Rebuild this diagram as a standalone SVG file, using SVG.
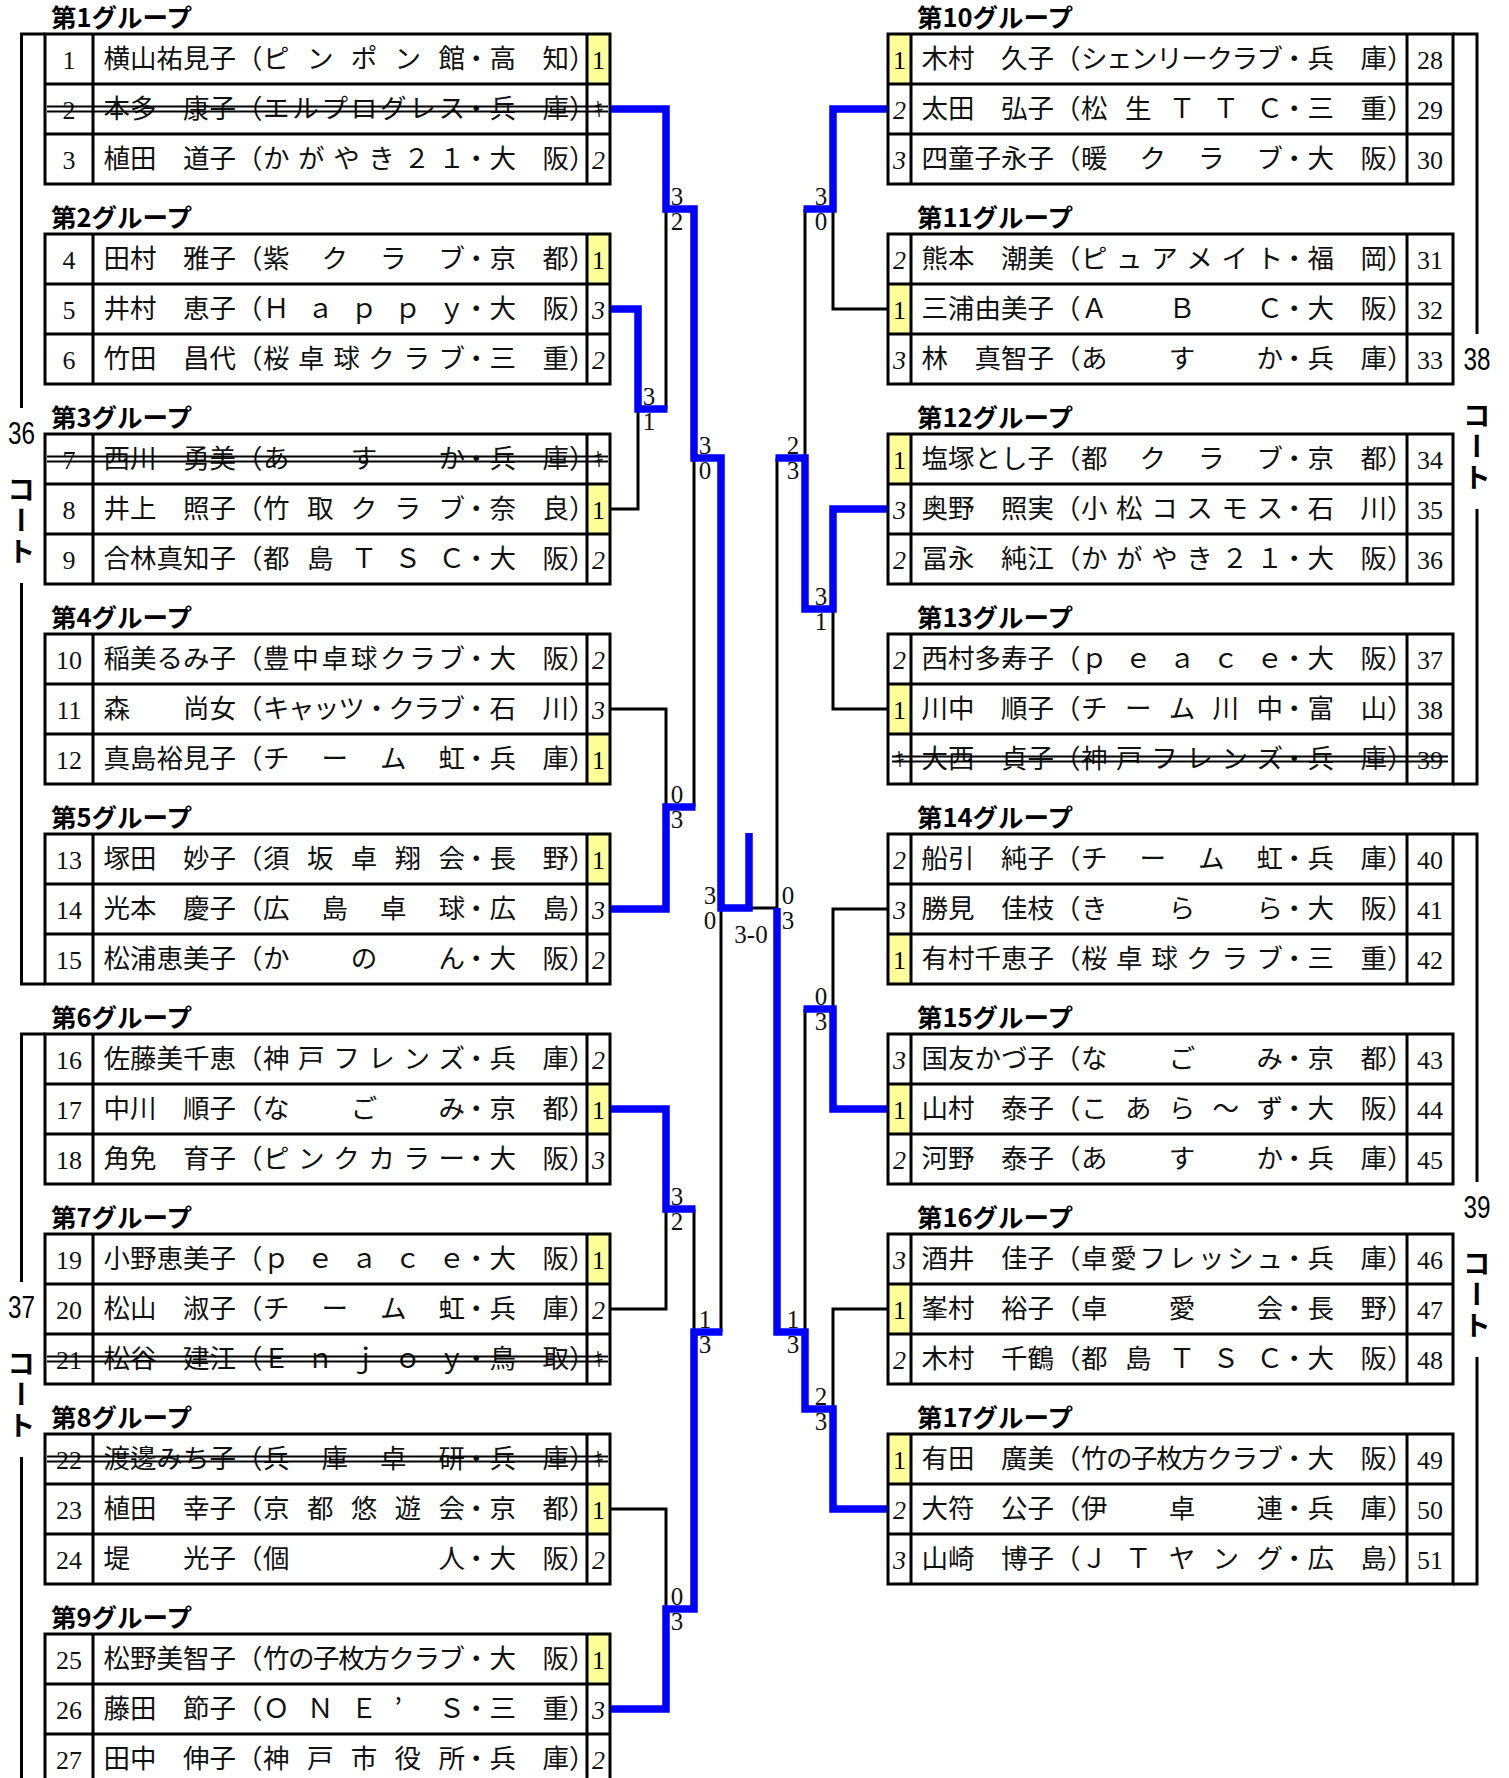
<svg xmlns="http://www.w3.org/2000/svg" width="1509" height="1778" viewBox="0 0 1509 1778">
<style>
.t{fill:none;stroke:#000;stroke-width:3}
.y{fill:#ffff99}
.nm{font-family:"Noto Sans CJK JP","Noto Sans",sans-serif;font-size:26.5px;fill:#111}
.no{font-family:"Liberation Serif",serif;font-size:26px;text-anchor:middle;fill:#111}
.w{font-family:"Liberation Serif",serif;font-size:26px;text-anchor:middle;fill:#000}
.sc{font-family:"Liberation Serif",serif;font-size:26px;font-style:italic;text-anchor:middle;fill:#111}
.k{font-family:"Noto Sans CJK JP",sans-serif;font-size:20px;text-anchor:middle;fill:#111}
.ttl{font-family:"Noto Sans CJK JP",sans-serif;font-size:25.5px;font-weight:bold;fill:#000}
.st{stroke:#000;stroke-width:2}
.bk{fill:none;stroke:#000;stroke-width:3}
.bl{fill:none;stroke:#0000ff;stroke-width:7.5;stroke-linejoin:miter}
.js{font-family:"Liberation Serif",serif;font-size:25px;text-anchor:middle;fill:#111}
.ct{font-family:"Liberation Sans",Arial,sans-serif;font-size:32px;text-anchor:middle;fill:#000}
.cv{font-family:"Noto Sans CJK JP",sans-serif;font-size:28px;font-weight:bold;writing-mode:vertical-rl;fill:#000}
</style>
<rect x="0" y="0" width="1509" height="1778" fill="#fff"/>

<g id="courts">
<path class="bk" d="M45,34H21.5V408M21.5,583V984H45"/>
<text class="ct" x="21.5" y="443.5" textLength="27" lengthAdjust="spacingAndGlyphs">36</text>
<text class="cv" x="21.5" y="475 506 537">コート</text>
<path class="bk" d="M45,1034H21.5V1282M21.5,1457V1790"/>
<text class="ct" x="21.5" y="1317.5" textLength="27" lengthAdjust="spacingAndGlyphs">37</text>
<text class="cv" x="21.5" y="1349 1380 1411">コート</text>
<path class="bk" d="M1453,34H1477V334M1477,509V784H1453"/>
<text class="ct" x="1477" y="369.5" textLength="27" lengthAdjust="spacingAndGlyphs">38</text>
<text class="cv" x="1477" y="401 432 463">コート</text>
<path class="bk" d="M1453,834H1477V1182M1477,1357V1584H1453"/>
<text class="ct" x="1477" y="1217.5" textLength="27" lengthAdjust="spacingAndGlyphs">39</text>
<text class="cv" x="1477" y="1249 1280 1311">コート</text>
</g>

<g id="group1" transform="translate(45,34)">
<text class="ttl" x="6" y="-7">第1グループ</text>
<rect class="y" x="542" y="0" width="23" height="50"/>
<path class="t" d="M0,0H565V150H0ZM48,0V150M542,0V150M0,50H565M0,100H565"/>
<text class="no" x="24" y="34.5">1</text><text class="no" x="24" y="84.5">2</text><text class="no" x="24" y="134.5">3</text>
<text class="w" x="553.5" y="34.5">1</text><text class="k" x="553.5" y="82.5">ｷ</text><text class="sc" x="553.5" y="134.5">2</text>
<g transform="translate(48,-1)">
<text class="nm" y="34.5"><tspan x="10.5">横山祐見子（</tspan><tspan x="170 213.9 257.8 301.6 345.5">ピンポン館</tspan><tspan x="370">・高　知）</tspan></text>
<text class="nm" y="84.5"><tspan x="10.5">本多　康子（</tspan><tspan x="170 199.3 228.5 257.8 287 316.3 345.5">エルプログレス</tspan><tspan x="370">・兵　庫）</tspan></text>
<text class="nm" y="134.5"><tspan x="10.5">植田　道子（</tspan><tspan x="170 205.1 240.2 275.3 310.4 345.5">かがやき２１</tspan><tspan x="370">・大　阪）</tspan></text>
</g>
<path class="st" d="M2,72.5H563M2,77.5H563"/>
</g>

<g id="group2" transform="translate(45,234)">
<text class="ttl" x="6" y="-7">第2グループ</text>
<rect class="y" x="542" y="0" width="23" height="50"/>
<path class="t" d="M0,0H565V150H0ZM48,0V150M542,0V150M0,50H565M0,100H565"/>
<text class="no" x="24" y="34.5">4</text><text class="no" x="24" y="84.5">5</text><text class="no" x="24" y="134.5">6</text>
<text class="w" x="553.5" y="34.5">1</text><text class="sc" x="553.5" y="84.5">3</text><text class="sc" x="553.5" y="134.5">2</text>
<g transform="translate(48,-1)">
<text class="nm" y="34.5"><tspan x="10.5">田村　雅子（</tspan><tspan x="170 228.5 287 345.5">紫クラブ</tspan><tspan x="370">・京　都）</tspan></text>
<text class="nm" y="84.5"><tspan x="10.5">井村　恵子（</tspan><tspan x="170 213.9 257.8 301.6 345.5">Ｈａｐｐｙ</tspan><tspan x="370">・大　阪）</tspan></text>
<text class="nm" y="134.5"><tspan x="10.5">竹田　昌代（</tspan><tspan x="170 205.1 240.2 275.3 310.4 345.5">桜卓球クラブ</tspan><tspan x="370">・三　重）</tspan></text>
</g>
</g>

<g id="group3" transform="translate(45,434)">
<text class="ttl" x="6" y="-7">第3グループ</text>
<rect class="y" x="542" y="50" width="23" height="50"/>
<path class="t" d="M0,0H565V150H0ZM48,0V150M542,0V150M0,50H565M0,100H565"/>
<text class="no" x="24" y="34.5">7</text><text class="no" x="24" y="84.5">8</text><text class="no" x="24" y="134.5">9</text>
<text class="k" x="553.5" y="32.5">ｷ</text><text class="w" x="553.5" y="84.5">1</text><text class="sc" x="553.5" y="134.5">2</text>
<g transform="translate(48,-1)">
<text class="nm" y="34.5"><tspan x="10.5">西川　勇美（</tspan><tspan x="170 257.8 345.5">あすか</tspan><tspan x="370">・兵　庫）</tspan></text>
<text class="nm" y="84.5"><tspan x="10.5">井上　照子（</tspan><tspan x="170 213.9 257.8 301.6 345.5">竹取クラブ</tspan><tspan x="370">・奈　良）</tspan></text>
<text class="nm" y="134.5"><tspan x="10.5">合林真知子（</tspan><tspan x="170 213.9 257.8 301.6 345.5">都島ＴＳＣ</tspan><tspan x="370">・大　阪）</tspan></text>
</g>
<path class="st" d="M2,22.5H563M2,27.5H563"/>
</g>

<g id="group4" transform="translate(45,634)">
<text class="ttl" x="6" y="-7">第4グループ</text>
<rect class="y" x="542" y="100" width="23" height="50"/>
<path class="t" d="M0,0H565V150H0ZM48,0V150M542,0V150M0,50H565M0,100H565"/>
<text class="no" x="24" y="34.5">10</text><text class="no" x="24" y="84.5">11</text><text class="no" x="24" y="134.5">12</text>
<text class="sc" x="553.5" y="34.5">2</text><text class="sc" x="553.5" y="84.5">3</text><text class="w" x="553.5" y="134.5">1</text>
<g transform="translate(48,-1)">
<text class="nm" y="34.5"><tspan x="10.5">稲美るみ子（</tspan><tspan x="170 199.3 228.5 257.8 287 316.3 345.5">豊中卓球クラブ</tspan><tspan x="370">・大　阪）</tspan></text>
<text class="nm" y="84.5"><tspan x="10.5">森　　尚女（</tspan><tspan x="170 195.1 220.1 245.2 270.3 295.4 320.4 345.5">キャッツ・クラブ</tspan><tspan x="370">・石　川）</tspan></text>
<text class="nm" y="134.5"><tspan x="10.5">真島裕見子（</tspan><tspan x="170 228.5 287 345.5">チーム虹</tspan><tspan x="370">・兵　庫）</tspan></text>
</g>
</g>

<g id="group5" transform="translate(45,834)">
<text class="ttl" x="6" y="-7">第5グループ</text>
<rect class="y" x="542" y="0" width="23" height="50"/>
<path class="t" d="M0,0H565V150H0ZM48,0V150M542,0V150M0,50H565M0,100H565"/>
<text class="no" x="24" y="34.5">13</text><text class="no" x="24" y="84.5">14</text><text class="no" x="24" y="134.5">15</text>
<text class="w" x="553.5" y="34.5">1</text><text class="sc" x="553.5" y="84.5">3</text><text class="sc" x="553.5" y="134.5">2</text>
<g transform="translate(48,-1)">
<text class="nm" y="34.5"><tspan x="10.5">塚田　妙子（</tspan><tspan x="170 213.9 257.8 301.6 345.5">須坂卓翔会</tspan><tspan x="370">・長　野）</tspan></text>
<text class="nm" y="84.5"><tspan x="10.5">光本　慶子（</tspan><tspan x="170 228.5 287 345.5">広島卓球</tspan><tspan x="370">・広　島）</tspan></text>
<text class="nm" y="134.5"><tspan x="10.5">松浦恵美子（</tspan><tspan x="170 257.8 345.5">かのん</tspan><tspan x="370">・大　阪）</tspan></text>
</g>
</g>

<g id="group6" transform="translate(45,1034)">
<text class="ttl" x="6" y="-7">第6グループ</text>
<rect class="y" x="542" y="50" width="23" height="50"/>
<path class="t" d="M0,0H565V150H0ZM48,0V150M542,0V150M0,50H565M0,100H565"/>
<text class="no" x="24" y="34.5">16</text><text class="no" x="24" y="84.5">17</text><text class="no" x="24" y="134.5">18</text>
<text class="sc" x="553.5" y="34.5">2</text><text class="w" x="553.5" y="84.5">1</text><text class="sc" x="553.5" y="134.5">3</text>
<g transform="translate(48,-1)">
<text class="nm" y="34.5"><tspan x="10.5">佐藤美千恵（</tspan><tspan x="170 205.1 240.2 275.3 310.4 345.5">神戸フレンズ</tspan><tspan x="370">・兵　庫）</tspan></text>
<text class="nm" y="84.5"><tspan x="10.5">中川　順子（</tspan><tspan x="170 257.8 345.5">なごみ</tspan><tspan x="370">・京　都）</tspan></text>
<text class="nm" y="134.5"><tspan x="10.5">角免　育子（</tspan><tspan x="170 205.1 240.2 275.3 310.4 345.5">ピンクカラー</tspan><tspan x="370">・大　阪）</tspan></text>
</g>
</g>

<g id="group7" transform="translate(45,1234)">
<text class="ttl" x="6" y="-7">第7グループ</text>
<rect class="y" x="542" y="0" width="23" height="50"/>
<path class="t" d="M0,0H565V150H0ZM48,0V150M542,0V150M0,50H565M0,100H565"/>
<text class="no" x="24" y="34.5">19</text><text class="no" x="24" y="84.5">20</text><text class="no" x="24" y="134.5">21</text>
<text class="w" x="553.5" y="34.5">1</text><text class="sc" x="553.5" y="84.5">2</text><text class="k" x="553.5" y="132.5">ｷ</text>
<g transform="translate(48,-1)">
<text class="nm" y="34.5"><tspan x="10.5">小野恵美子（</tspan><tspan x="170 213.9 257.8 301.6 345.5">ｐｅａｃｅ</tspan><tspan x="370">・大　阪）</tspan></text>
<text class="nm" y="84.5"><tspan x="10.5">松山　淑子（</tspan><tspan x="170 228.5 287 345.5">チーム虹</tspan><tspan x="370">・兵　庫）</tspan></text>
<text class="nm" y="134.5"><tspan x="10.5">松谷　建江（</tspan><tspan x="170 213.9 257.8 301.6 345.5">Ｅｎｊｏｙ</tspan><tspan x="370">・鳥　取）</tspan></text>
</g>
<path class="st" d="M2,122.5H563M2,127.5H563"/>
</g>

<g id="group8" transform="translate(45,1434)">
<text class="ttl" x="6" y="-7">第8グループ</text>
<rect class="y" x="542" y="50" width="23" height="50"/>
<path class="t" d="M0,0H565V150H0ZM48,0V150M542,0V150M0,50H565M0,100H565"/>
<text class="no" x="24" y="34.5">22</text><text class="no" x="24" y="84.5">23</text><text class="no" x="24" y="134.5">24</text>
<text class="k" x="553.5" y="32.5">ｷ</text><text class="w" x="553.5" y="84.5">1</text><text class="sc" x="553.5" y="134.5">2</text>
<g transform="translate(48,-1)">
<text class="nm" y="34.5"><tspan x="10.5">渡邊みち子（</tspan><tspan x="170 228.5 287 345.5">兵庫卓研</tspan><tspan x="370">・兵　庫）</tspan></text>
<text class="nm" y="84.5"><tspan x="10.5">植田　幸子（</tspan><tspan x="170 213.9 257.8 301.6 345.5">京都悠遊会</tspan><tspan x="370">・京　都）</tspan></text>
<text class="nm" y="134.5"><tspan x="10.5">堤　　光子（</tspan><tspan x="170 345.5">個人</tspan><tspan x="370">・大　阪）</tspan></text>
</g>
<path class="st" d="M2,22.5H563M2,27.5H563"/>
</g>

<g id="group9" transform="translate(45,1634)">
<text class="ttl" x="6" y="-7">第9グループ</text>
<rect class="y" x="542" y="0" width="23" height="50"/>
<path class="t" d="M0,0H565V150H0ZM48,0V150M542,0V150M0,50H565M0,100H565"/>
<text class="no" x="24" y="34.5">25</text><text class="no" x="24" y="84.5">26</text><text class="no" x="24" y="134.5">27</text>
<text class="w" x="553.5" y="34.5">1</text><text class="sc" x="553.5" y="84.5">3</text><text class="sc" x="553.5" y="134.5">2</text>
<g transform="translate(48,-1)">
<text class="nm" y="34.5"><tspan x="10.5">松野美智子（</tspan><tspan x="170 195.1 220.1 245.2 270.3 295.4 320.4 345.5">竹の子枚方クラブ</tspan><tspan x="370">・大　阪）</tspan></text>
<text class="nm" y="84.5"><tspan x="10.5">藤田　節子（</tspan><tspan x="170 213.9 257.8 301.6 345.5">ＯＮＥ’Ｓ</tspan><tspan x="370">・三　重）</tspan></text>
<text class="nm" y="134.5"><tspan x="10.5">田中　伸子（</tspan><tspan x="170 213.9 257.8 301.6 345.5">神戸市役所</tspan><tspan x="370">・兵　庫）</tspan></text>
</g>
</g>

<g id="group10" transform="translate(888,34)">
<text class="ttl" x="29" y="-7">第10グループ</text>
<rect class="y" x="0" y="0" width="23" height="50"/>
<path class="t" d="M0,0H565V150H0ZM23,0V150M519,0V150M0,50H565M0,100H565"/>
<text class="w" x="11.5" y="34.5">1</text><text class="sc" x="11.5" y="84.5">2</text><text class="sc" x="11.5" y="134.5">3</text>
<text class="no" x="542" y="34.5">28</text><text class="no" x="542" y="84.5">29</text><text class="no" x="542" y="134.5">30</text>
<g transform="translate(23,-1)">
<text class="nm" y="34.5"><tspan x="10.5">木村　久子（</tspan><tspan x="170 195.1 220.1 245.2 270.3 295.4 320.4 345.5">シェンリークラブ</tspan><tspan x="370">・兵　庫）</tspan></text>
<text class="nm" y="84.5"><tspan x="10.5">太田　弘子（</tspan><tspan x="170 213.9 257.8 301.6 345.5">松生ＴＴＣ</tspan><tspan x="370">・三　重）</tspan></text>
<text class="nm" y="134.5"><tspan x="10.5">四童子永子（</tspan><tspan x="170 228.5 287 345.5">暖クラブ</tspan><tspan x="370">・大　阪）</tspan></text>
</g>
</g>

<g id="group11" transform="translate(888,234)">
<text class="ttl" x="29" y="-7">第11グループ</text>
<rect class="y" x="0" y="50" width="23" height="50"/>
<path class="t" d="M0,0H565V150H0ZM23,0V150M519,0V150M0,50H565M0,100H565"/>
<text class="sc" x="11.5" y="34.5">2</text><text class="w" x="11.5" y="84.5">1</text><text class="sc" x="11.5" y="134.5">3</text>
<text class="no" x="542" y="34.5">31</text><text class="no" x="542" y="84.5">32</text><text class="no" x="542" y="134.5">33</text>
<g transform="translate(23,-1)">
<text class="nm" y="34.5"><tspan x="10.5">熊本　潮美（</tspan><tspan x="170 205.1 240.2 275.3 310.4 345.5">ピュアメイト</tspan><tspan x="370">・福　岡）</tspan></text>
<text class="nm" y="84.5"><tspan x="10.5">三浦由美子（</tspan><tspan x="170 257.8 345.5">ＡＢＣ</tspan><tspan x="370">・大　阪）</tspan></text>
<text class="nm" y="134.5"><tspan x="10.5">林　真智子（</tspan><tspan x="170 257.8 345.5">あすか</tspan><tspan x="370">・兵　庫）</tspan></text>
</g>
</g>

<g id="group12" transform="translate(888,434)">
<text class="ttl" x="29" y="-7">第12グループ</text>
<rect class="y" x="0" y="0" width="23" height="50"/>
<path class="t" d="M0,0H565V150H0ZM23,0V150M519,0V150M0,50H565M0,100H565"/>
<text class="w" x="11.5" y="34.5">1</text><text class="sc" x="11.5" y="84.5">3</text><text class="sc" x="11.5" y="134.5">2</text>
<text class="no" x="542" y="34.5">34</text><text class="no" x="542" y="84.5">35</text><text class="no" x="542" y="134.5">36</text>
<g transform="translate(23,-1)">
<text class="nm" y="34.5"><tspan x="10.5">塩塚とし子（</tspan><tspan x="170 228.5 287 345.5">都クラブ</tspan><tspan x="370">・京　都）</tspan></text>
<text class="nm" y="84.5"><tspan x="10.5">奥野　照実（</tspan><tspan x="170 205.1 240.2 275.3 310.4 345.5">小松コスモス</tspan><tspan x="370">・石　川）</tspan></text>
<text class="nm" y="134.5"><tspan x="10.5">冨永　純江（</tspan><tspan x="170 205.1 240.2 275.3 310.4 345.5">かがやき２１</tspan><tspan x="370">・大　阪）</tspan></text>
</g>
</g>

<g id="group13" transform="translate(888,634)">
<text class="ttl" x="29" y="-7">第13グループ</text>
<rect class="y" x="0" y="50" width="23" height="50"/>
<path class="t" d="M0,0H565V150H0ZM23,0V150M519,0V150M0,50H565M0,100H565"/>
<text class="sc" x="11.5" y="34.5">2</text><text class="w" x="11.5" y="84.5">1</text><text class="k" x="11.5" y="132.5">ｷ</text>
<text class="no" x="542" y="34.5">37</text><text class="no" x="542" y="84.5">38</text><text class="no" x="542" y="134.5">39</text>
<g transform="translate(23,-1)">
<text class="nm" y="34.5"><tspan x="10.5">西村多寿子（</tspan><tspan x="170 213.9 257.8 301.6 345.5">ｐｅａｃｅ</tspan><tspan x="370">・大　阪）</tspan></text>
<text class="nm" y="84.5"><tspan x="10.5">川中　順子（</tspan><tspan x="170 213.9 257.8 301.6 345.5">チーム川中</tspan><tspan x="370">・富　山）</tspan></text>
<text class="nm" y="134.5"><tspan x="10.5">大西　貞子（</tspan><tspan x="170 205.1 240.2 275.3 310.4 345.5">神戸フレンズ</tspan><tspan x="370">・兵　庫）</tspan></text>
</g>
<path class="st" d="M4,122.5H560M4,127.5H560"/>
</g>

<g id="group14" transform="translate(888,834)">
<text class="ttl" x="29" y="-7">第14グループ</text>
<rect class="y" x="0" y="100" width="23" height="50"/>
<path class="t" d="M0,0H565V150H0ZM23,0V150M519,0V150M0,50H565M0,100H565"/>
<text class="sc" x="11.5" y="34.5">2</text><text class="sc" x="11.5" y="84.5">3</text><text class="w" x="11.5" y="134.5">1</text>
<text class="no" x="542" y="34.5">40</text><text class="no" x="542" y="84.5">41</text><text class="no" x="542" y="134.5">42</text>
<g transform="translate(23,-1)">
<text class="nm" y="34.5"><tspan x="10.5">船引　純子（</tspan><tspan x="170 228.5 287 345.5">チーム虹</tspan><tspan x="370">・兵　庫）</tspan></text>
<text class="nm" y="84.5"><tspan x="10.5">勝見　佳枝（</tspan><tspan x="170 257.8 345.5">きらら</tspan><tspan x="370">・大　阪）</tspan></text>
<text class="nm" y="134.5"><tspan x="10.5">有村千恵子（</tspan><tspan x="170 205.1 240.2 275.3 310.4 345.5">桜卓球クラブ</tspan><tspan x="370">・三　重）</tspan></text>
</g>
</g>

<g id="group15" transform="translate(888,1034)">
<text class="ttl" x="29" y="-7">第15グループ</text>
<rect class="y" x="0" y="50" width="23" height="50"/>
<path class="t" d="M0,0H565V150H0ZM23,0V150M519,0V150M0,50H565M0,100H565"/>
<text class="sc" x="11.5" y="34.5">3</text><text class="w" x="11.5" y="84.5">1</text><text class="sc" x="11.5" y="134.5">2</text>
<text class="no" x="542" y="34.5">43</text><text class="no" x="542" y="84.5">44</text><text class="no" x="542" y="134.5">45</text>
<g transform="translate(23,-1)">
<text class="nm" y="34.5"><tspan x="10.5">国友かづ子（</tspan><tspan x="170 257.8 345.5">なごみ</tspan><tspan x="370">・京　都）</tspan></text>
<text class="nm" y="84.5"><tspan x="10.5">山村　泰子（</tspan><tspan x="170 213.9 257.8 301.6 345.5">こあら～ず</tspan><tspan x="370">・大　阪）</tspan></text>
<text class="nm" y="134.5"><tspan x="10.5">河野　泰子（</tspan><tspan x="170 257.8 345.5">あすか</tspan><tspan x="370">・兵　庫）</tspan></text>
</g>
</g>

<g id="group16" transform="translate(888,1234)">
<text class="ttl" x="29" y="-7">第16グループ</text>
<rect class="y" x="0" y="50" width="23" height="50"/>
<path class="t" d="M0,0H565V150H0ZM23,0V150M519,0V150M0,50H565M0,100H565"/>
<text class="sc" x="11.5" y="34.5">3</text><text class="w" x="11.5" y="84.5">1</text><text class="sc" x="11.5" y="134.5">2</text>
<text class="no" x="542" y="34.5">46</text><text class="no" x="542" y="84.5">47</text><text class="no" x="542" y="134.5">48</text>
<g transform="translate(23,-1)">
<text class="nm" y="34.5"><tspan x="10.5">酒井　佳子（</tspan><tspan x="170 199.3 228.5 257.8 287 316.3 345.5">卓愛フレッシュ</tspan><tspan x="370">・兵　庫）</tspan></text>
<text class="nm" y="84.5"><tspan x="10.5">峯村　裕子（</tspan><tspan x="170 257.8 345.5">卓愛会</tspan><tspan x="370">・長　野）</tspan></text>
<text class="nm" y="134.5"><tspan x="10.5">木村　千鶴（</tspan><tspan x="170 213.9 257.8 301.6 345.5">都島ＴＳＣ</tspan><tspan x="370">・大　阪）</tspan></text>
</g>
</g>

<g id="group17" transform="translate(888,1434)">
<text class="ttl" x="29" y="-7">第17グループ</text>
<rect class="y" x="0" y="0" width="23" height="50"/>
<path class="t" d="M0,0H565V150H0ZM23,0V150M519,0V150M0,50H565M0,100H565"/>
<text class="w" x="11.5" y="34.5">1</text><text class="sc" x="11.5" y="84.5">2</text><text class="sc" x="11.5" y="134.5">3</text>
<text class="no" x="542" y="34.5">49</text><text class="no" x="542" y="84.5">50</text><text class="no" x="542" y="134.5">51</text>
<g transform="translate(23,-1)">
<text class="nm" y="34.5"><tspan x="10.5">有田　廣美（</tspan><tspan x="170 195.1 220.1 245.2 270.3 295.4 320.4 345.5">竹の子枚方クラブ</tspan><tspan x="370">・大　阪）</tspan></text>
<text class="nm" y="84.5"><tspan x="10.5">大符　公子（</tspan><tspan x="170 257.8 345.5">伊卓連</tspan><tspan x="370">・兵　庫）</tspan></text>
<text class="nm" y="134.5"><tspan x="10.5">山崎　博子（</tspan><tspan x="170 213.9 257.8 301.6 345.5">ＪＴヤング</tspan><tspan x="370">・広　島）</tspan></text>
</g>
</g>

<g id="connectors">
<path class="bk" d="M610,509H638V409M666,409V209M610,709H666V807M694,807V458M610,1309H666V1209M610,1509H666V1609M694,1209V1332M721,1332V908"/>
<path class="bk" d="M888,309H833V209M805,209V458M888,709H833V609M777,458V908M888,909H833V1009M888,1309H833V1409M805,1009V1332M777,908H749"/>
<path class="bl" d="M611,109H666V209H694V458H721V908H749V833"/>
<path class="bl" d="M611,309H638V409H667.5"/>
<path class="bl" d="M611,909H666V807H695.5"/>
<path class="bl" d="M611,1109H666V1209H695.5"/>
<path class="bl" d="M611,1709H666V1609H694V1332H722.5"/>
<path class="bl" d="M887,109H833V209H803.5"/>
<path class="bl" d="M887,509H833V609H805V458H775.5"/>
<path class="bl" d="M887,1109H833V1009H803.5"/>
<path class="bl" d="M887,1509H833V1409H805V1332H777V908"/>
<g id="scores">
<text class="js" x="649" y="404.5">3</text><text class="js" x="649" y="430">1</text>
<text class="js" x="677" y="204.5">3</text><text class="js" x="677" y="230">2</text>
<text class="js" x="677" y="802.5">0</text><text class="js" x="677" y="828">3</text>
<text class="js" x="705" y="453.5">3</text><text class="js" x="705" y="479">0</text>
<text class="js" x="677" y="1204.5">3</text><text class="js" x="677" y="1230">2</text>
<text class="js" x="677" y="1604.5">0</text><text class="js" x="677" y="1630">3</text>
<text class="js" x="705" y="1327.5">1</text><text class="js" x="705" y="1353">3</text>
<text class="js" x="710" y="903.5">3</text><text class="js" x="710" y="929">0</text>
<text class="js" x="821" y="204.5">3</text><text class="js" x="821" y="230">0</text>
<text class="js" x="821" y="604.5">3</text><text class="js" x="821" y="630">1</text>
<text class="js" x="793" y="453.5">2</text><text class="js" x="793" y="479">3</text>
<text class="js" x="821" y="1004.5">0</text><text class="js" x="821" y="1030">3</text>
<text class="js" x="821" y="1404.5">2</text><text class="js" x="821" y="1430">3</text>
<text class="js" x="793" y="1327.5">1</text><text class="js" x="793" y="1353">3</text>
<text class="js" x="788" y="903.5">0</text><text class="js" x="788" y="929">3</text>
<text class="js" x="751" y="943">3-0</text>
</g>
</g>
</svg>
